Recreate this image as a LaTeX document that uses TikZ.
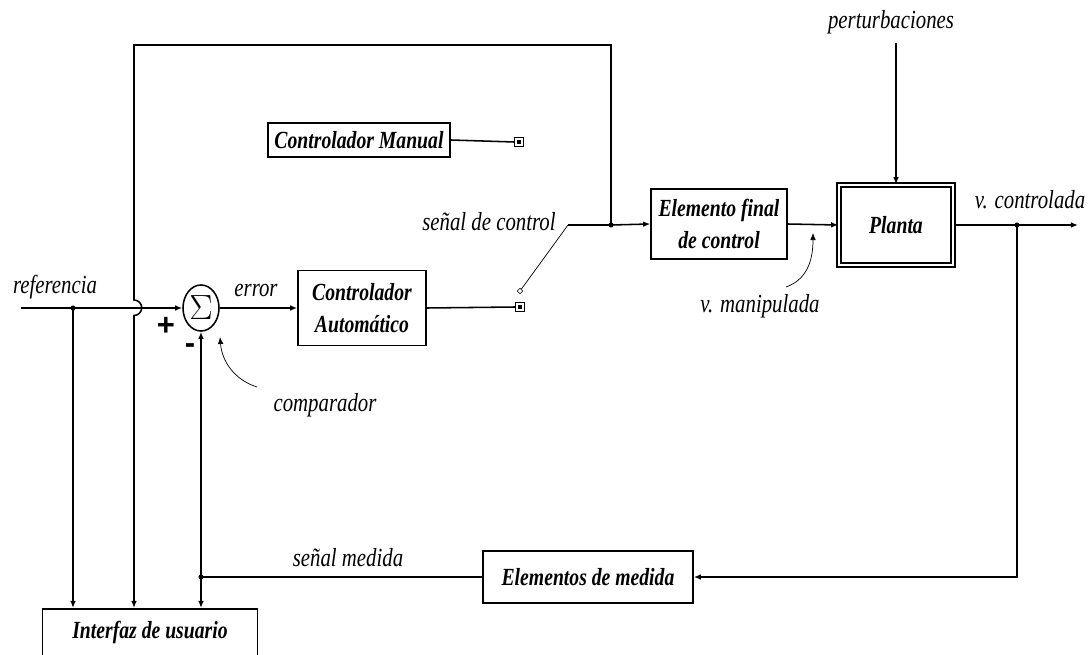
\documentclass[tikz,border=0pt]{standalone}
\usepackage{fontspec}
\setmainfont{Liberation Serif}[FakeStretch=0.8]
\newfontfamily\signo{Liberation Sans}
\usetikzlibrary{arrows.meta,shapes.geometric}

\begin{document}
\begin{tikzpicture}[x=0.025cm,y=-0.025cm,line width=1.1pt,
  >={Latex[length=5pt,width=4pt]},
  bloque/.style={draw,align=center,inner sep=0pt,
    font=\fontsize{17.5}{23}\selectfont\bfseries\itshape},
  etiqueta/.style={font=\fontsize{18.5}{21}\selectfont\itshape},
  borne/.style={draw,rectangle,line width=0.6pt,inner sep=0pt,minimum size=6pt,
    path picture={\fill ([shift={(-1.4pt,-1.4pt)}]path picture bounding box.center)
      rectangle ([shift={(1.4pt,1.4pt)}]path picture bounding box.center);}},
  signos/.style={font=\fontsize{22}{22}\selectfont\signo\bfseries},
  flecha/.style={->,line width=0.5pt}]
\useasboundingbox (0,0) rectangle (1089,655);
\node[bloque,minimum width=4.55cm,minimum height=0.85cm] (manual) at (359,140) {Controlador Manual};
\node[bloque,minimum width=3.2cm,minimum height=1.875cm] (auto) at (362,308) {Controlador\\Automático};
\node[bloque,minimum width=3.4cm,minimum height=1.75cm] (final) at (719,224) {Elemento final\\de control};
\node[bloque,double,double distance=1.6pt,minimum width=2.85cm,minimum height=2cm] (planta) at (896,225) {Planta};
\node[bloque,minimum width=5.25cm,minimum height=1.3cm] (medida) at (588,577) {Elementos de medida};
\node[bloque,anchor=north,minimum width=5.375cm,minimum height=1.6cm,text depth=0.55cm] (interfaz) at (150,608) {Interfaz de usuario};
\node[draw,ellipse,inner sep=0pt,minimum width=0.9cm,minimum height=1.15cm] (suma) at (201,308) {\fontsize{24}{24}\selectfont$\Sigma$};
\node[borne] (t1) at (520,307) {};
\node[borne] (t2) at (519,142) {};
\node[draw,diamond,line width=0.4pt,inner sep=0pt,minimum size=4pt] (palanca) at (520,291) {};
\coordinate (ref) at (21,308);
\coordinate (A) at (73,308);
\coordinate (fb) at (201,577);
\coordinate (sc) at (611,225);
\coordinate (vc) at (1017,225);
\coordinate (out) at (1078,225);
\coordinate (pert) at (896,43);
\coordinate (lever) at (568,225);
\coordinate (TL) at (134,45);
\coordinate (TR) at (611,45);
\coordinate (salto) at (134,300);
\draw[->] (ref) -- (suma.west);
\draw[->] (A) -- (A |- interfaz.north);
\draw[->] (suma.east) -- (auto.west);
\draw (auto.east) -- (t1.west);
\draw (manual.east) -- (t2.west);
\draw[line width=0.5pt] (palanca) -- (lever);
\draw (lever) -- (sc);
\draw[->] (sc) -- (final.west);
\draw[->] (sc) -- (TR) -- (TL) -- (salto) arc[start angle=90,end angle=-90,radius=5.5pt]
  -- (TL |- interfaz.north);
\draw (medida.west) -- (fb);
\draw[->] (fb) -- (suma.south);
\draw[->] (fb) -- (fb |- interfaz.north);
\draw[->] (final.east) -- (planta.west);
\draw[->] (pert) -- (planta.north);
\draw[->] (planta.east) -- (out);
\draw[->] (vc) |- (medida.east);
\foreach \p in {A,fb,sc,vc}
  \fill (\p) circle (1.8pt);
\draw[flecha] (257,387) .. controls (235,380) and (222,362) .. (220,337);
\draw[flecha] (786,287) .. controls (806,280) and (813,262) .. (813,233);
\node[etiqueta] at (55,287) {referencia};
\node[etiqueta] at (256,290) {error};
\node[etiqueta] at (489,222) {señal de control};
\node[etiqueta] at (760,306) {v. manipulada};
\node[etiqueta] at (1030,200) {v. controlada};
\node[etiqueta] at (891,22) {perturbaciones};
\node[etiqueta] at (325,405) {comparador};
\node[etiqueta] at (348,558) {señal medida};
\node[signos] at (166,326) {+};
\node[signos] at (190,349) {-};
\end{tikzpicture}
\end{document}
